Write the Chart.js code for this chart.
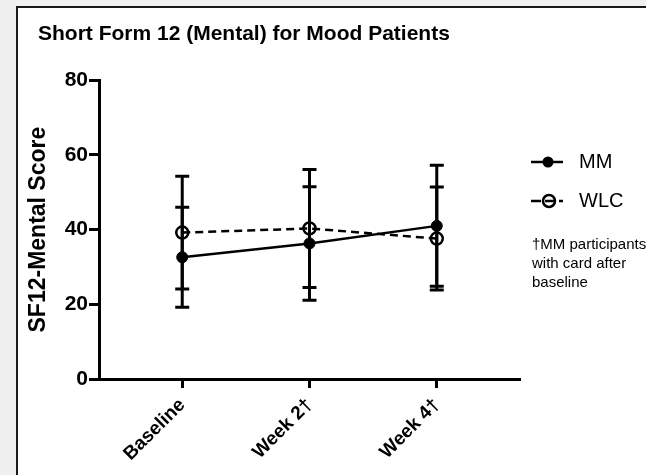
<!DOCTYPE html>
<html>
<head>
<meta charset="utf-8">
<script src="https://cdn.jsdelivr.net/npm/chart.js@4"></script>
<style>
  html, body { margin: 0; padding: 0; background: #f0f0f0; overflow: hidden; }
  #panel {
    position: absolute; left: 16px; top: 6px; width: 700px; height: 600px;
    background: #ffffff; border-left: 2px solid #1a1a1a; border-top: 2px solid #1a1a1a;
  }
  #wrap { position: absolute; left: 0; top: 0; width: 646px; height: 475px; }
</style>
</head>
<body>
<div id="panel"></div>
<div id="wrap"><canvas id="sfChart"></canvas></div>
<script>
// ─── Data ───────────────────────────────────────────────────────────────────
const timepoints = ["Baseline", "Week 2\u2020", "Week 4\u2020"];
const mmMean  = [32.6, 36.3, 41.0];
const mmErr   = [13.4, 15.2, 16.2];
const wlcMean = [39.2, 40.3, 37.6];
const wlcErr  = [15.1, 15.8, 13.8];
const yTicks  = [0, 20, 40, 60, 80];

const FONT = "'Liberation Sans', Arial, Helvetica, sans-serif";
Chart.defaults.font.family = FONT;
Chart.defaults.color = "#000";

const toPoints = arr => arr.map((v, i) => ({ x: i, y: v }));

// ─── Error bars (mean ± err) drawn through the chart's scales ──────────────
const errorBars = {
    id: "errorBars",
    afterDatasetsDraw(chart) {
        const { ctx, scales: { x, y } } = chart;
        const sets = [[mmMean, mmErr], [wlcMean, wlcErr]];
        ctx.save();
        ctx.strokeStyle = "#000";
        ctx.lineWidth = 3;
        ctx.setLineDash([]);
        sets.forEach(([mean, err]) => {
            mean.forEach((m, i) => {
                const px = x.getPixelForValue(i);
                const top = y.getPixelForValue(m + err[i]);
                const bot = y.getPixelForValue(m - err[i]);
                ctx.beginPath();
                ctx.moveTo(px, top); ctx.lineTo(px, bot);
                ctx.moveTo(px - 7, top); ctx.lineTo(px + 7, top);
                ctx.moveTo(px - 7, bot); ctx.lineTo(px + 7, bot);
                ctx.stroke();
            });
        });
        ctx.restore();
    },
};

// ─── Side legend + footnote ─────────────────────────────────────────────────
const sideNotes = {
    id: "sideNotes",
    afterDraw(chart) {
        const ctx = chart.ctx;
        ctx.save();
        ctx.strokeStyle = "#000";
        ctx.fillStyle = "#000";
        ctx.lineWidth = 2.5;

        // MM
        ctx.beginPath();
        ctx.moveTo(531, 162); ctx.lineTo(563, 162);
        ctx.stroke();
        ctx.beginPath();
        ctx.arc(548, 162, 5.5, 0, Math.PI * 2);
        ctx.fill();

        // WLC
        ctx.setLineDash([10, 4]);
        ctx.beginPath();
        ctx.moveTo(531, 201); ctx.lineTo(563, 201);
        ctx.stroke();
        ctx.setLineDash([]);
        ctx.beginPath();
        ctx.arc(549, 201, 6, 0, Math.PI * 2);
        ctx.stroke();

        ctx.font = "20px " + FONT;
        ctx.textBaseline = "middle";
        ctx.fillText("MM", 579, 162);
        ctx.fillText("WLC", 579, 201);

        ctx.font = "15px " + FONT;
        ctx.fillText("\u2020MM participants", 532, 245);
        ctx.fillText("with card after", 532, 264);
        ctx.fillText("baseline", 532, 283);
        ctx.restore();
    },
};

new Chart(document.getElementById("sfChart"), {
    type: "line",
    data: {
        datasets: [
            {
                label: "MM",
                data: toPoints(mmMean),
                borderColor: "#000",
                borderWidth: 2.5,
                pointRadius: 5.5,
                pointBackgroundColor: "#000",
                pointBorderColor: "#000",
                pointBorderWidth: 1,
                tension: 0,
            },
            {
                label: "WLC",
                data: toPoints(wlcMean),
                borderColor: "#000",
                borderWidth: 2.5,
                borderDash: [8, 5],
                pointRadius: 6,
                pointBackgroundColor: "rgba(0,0,0,0)",
                pointBorderColor: "#000",
                pointBorderWidth: 2.5,
                tension: 0,
            },
        ],
    },
    options: {
        responsive: true,
        maintainAspectRatio: false,
        animation: false,
        layout: { padding: { left: 38, right: 126, top: 0, bottom: 0 } },
        plugins: {
            legend: { display: false },
            tooltip: { enabled: false },
            title: {
                display: true,
                text: "Short Form 12 (Mental) for Mood Patients",
                align: "start",
                color: "#000",
                font: { size: 21, weight: "bold" },
                padding: { top: 22, bottom: 33 },
            },
        },
        scales: {
            x: {
                type: "linear",
                min: -0.654,
                max: 2.654,
                afterBuildTicks: scale => {
                    scale.ticks = timepoints.map((_, i) => ({ value: i }));
                },
                afterFit: scale => { scale.height = 96; },
                grid: {
                    drawOnChartArea: false,
                    drawTicks: true,
                    tickLength: 9,
                    tickWidth: 3,
                    tickColor: "#000",
                },
                border: { display: true, width: 3, color: "#000" },
                ticks: {
                    autoSkip: false,
                    minRotation: 45,
                    maxRotation: 45,
                    padding: 6,
                    color: "#000",
                    font: { size: 19, weight: "bold" },
                    callback: v => timepoints[v],
                },
            },
            y: {
                min: 0,
                max: 80,
                afterBuildTicks: scale => {
                    scale.ticks = yTicks.map(v => ({ value: v }));
                },
                afterFit: scale => { scale.width = 61; },
                grid: {
                    drawOnChartArea: false,
                    drawTicks: true,
                    tickLength: 10,
                    tickWidth: 3,
                    tickColor: "#000",
                },
                border: { display: true, width: 3, color: "#000" },
                ticks: {
                    padding: 1,
                    color: "#000",
                    font: { size: 21, weight: "bold" },
                },
                title: {
                    display: true,
                    text: "SF12-Mental Score",
                    color: "#000",
                    font: { size: 23, weight: "bold" },
                    padding: { top: -12.8 },
                },
            },
        },
    },
    plugins: [errorBars, sideNotes],
});
</script>
</body>
</html>
